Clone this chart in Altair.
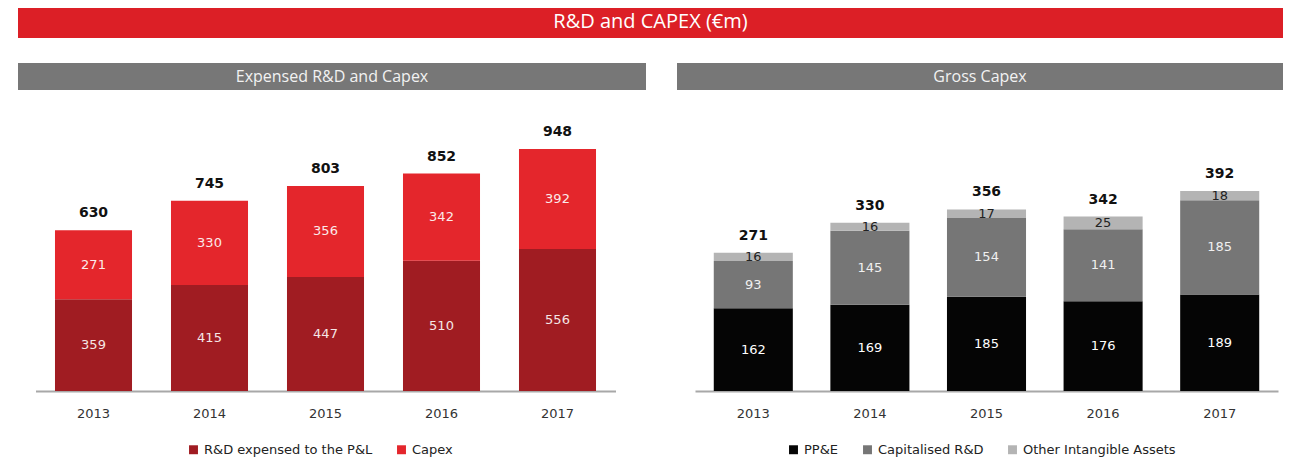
import altair as alt
import pandas as pd

years = ["2013", "2014", "2015", "2016", "2017"]
rd_expensed = [359, 415, 447, 510, 556]
capex = [271, 330, 356, 342, 392]
totals_left = [630, 745, 803, 852, 948]
ppe = [162, 169, 185, 176, 189]
cap_rd = [93, 145, 154, 141, 185]
other_int = [16, 16, 17, 25, 18]
totals_right = [271, 330, 356, 342, 392]

main_title = ["R&D and CAPEX (€m)"]
left_title = ["Expensed R&D and Capex"]
right_title = ["Gross Capex"]

left_series = ["R&D expensed to the P&L", "Capex"]
left_colors = ["#A01C22", "#E4262C"]
right_series = ["PP&E", "Capitalised R&D", "Other Intangible Assets"]
right_colors = ["#050505", "#767676", "#B4B4B4"]
right_label_colors = ["#FFFFFF", "#F0F0F0", "#222222"]

NUMFONT = "DejaVu Sans"
HFONT = "Open Sans"

rows = []
for i, y in enumerate(years):
    rows.append({"year": y, "series": left_series[0], "value": rd_expensed[i], "ord": 0, "lc": "#F5E6E6"})
    rows.append({"year": y, "series": left_series[1], "value": capex[i], "ord": 1, "lc": "#FBEAEA"})
df_left = pd.DataFrame(rows)
df_left_tot = pd.DataFrame({"year": years, "total": totals_left})

rows = []
vals = [ppe, cap_rd, other_int]
for i, y in enumerate(years):
    for k, s in enumerate(right_series):
        rows.append({"year": y, "series": s, "value": vals[k][i], "ord": k, "lc": right_label_colors[k]})
df_right = pd.DataFrame(rows)
df_right_tot = pd.DataFrame({"year": years, "total": totals_right})


def header(text_list, width):
    d = pd.DataFrame({"t": text_list})
    bar = alt.Chart(d).mark_rect(color="#777777").encode(
        x=alt.value(0), x2=alt.value(width), y=alt.value(0), y2=alt.value(27)
    )
    txt = alt.Chart(d).mark_text(font=HFONT, fontSize=16, color="#F2F2F2", baseline="middle", align="center").encode(
        x=alt.value(width / 2), y=alt.value(14), text="t:N"
    )
    return (bar + txt).properties(width=width, height=27)


def panel(df, df_tot, series, colors, width, xrange, pin, ymax, legend_x):
    x = alt.X("year:N", title=None, sort=years,
              scale=alt.Scale(range=xrange, paddingInner=pin, paddingOuter=pin / 2),
              axis=alt.Axis(labelAngle=0, ticks=False, labelPadding=16, labelFont=NUMFONT,
                            labelFontSize=13, labelColor="#333333", domainColor="#A8A8A8",
                            domainWidth=2))
    base = alt.Chart(df).transform_stack(
        stack="value", groupby=["year"], as_=["y0", "y1"], sort=[alt.SortField("ord")]
    ).transform_calculate(mid="(datum.y0 + datum.y1) / 2")
    ysc = alt.Scale(domain=[0, ymax])
    bars = base.mark_bar().encode(
        x=x,
        y=alt.Y("y0:Q", scale=ysc, axis=None),
        y2="y1:Q",
        color=alt.Color("series:N", scale=alt.Scale(domain=series, range=colors),
                        legend=alt.Legend(title=None, orient="none", legendX=legend_x, legendY=380,
                                          direction="horizontal", symbolType="square",
                                          symbolSize=80, symbolStrokeWidth=0,
                                          labelFont=NUMFONT, labelFontSize=13, labelLimit=400,
                                          labelColor="#222222", columnPadding=22,
                                          symbolOffset=0, labelOffset=4)),
    )
    labels = base.mark_text(font=NUMFONT, fontSize=13, baseline="middle").encode(
        x=alt.X("year:N", sort=years),
        y=alt.Y("mid:Q", scale=ysc),
        text="value:Q",
        color=alt.Color("lc:N", scale=None),
    )
    tots = alt.Chart(df_tot).mark_text(font=NUMFONT, fontSize=14, fontWeight="bold",
                                        color="#111111", baseline="middle", dy=-17).encode(
        x=alt.X("year:N", sort=years),
        y=alt.Y("total:Q", scale=ysc),
        text="total:Q",
    )
    return (bars + labels + tots).properties(width=width, height=291)


left = panel(df_left, df_left_tot, left_series, left_colors, 628, [17.5, 597.5], 0.336, 1140, 169)
right = panel(df_right, df_right_tot, right_series, right_colors, 606, [18, 601], 0.322, 570.5, 110)

left_p = alt.vconcat(header(left_title, 628), left, spacing=10)
right_p = alt.vconcat(header(right_title, 606), right, spacing=10)

td = pd.DataFrame({"t": main_title})
title_bar = (
    alt.Chart(td).mark_rect(color="#DC1F26").encode(
        x=alt.value(0), x2=alt.value(1265), y=alt.value(0), y2=alt.value(30))
    + alt.Chart(td).mark_text(font=HFONT, fontSize=20, color="white", baseline="middle", align="center").encode(
        x=alt.value(632.5), y=alt.value(14), text="t:N")
).properties(width=1265, height=30)

chart = alt.vconcat(
    title_bar,
    alt.hconcat(left_p, right_p, spacing=31).resolve_scale(color="independent"),
    spacing=25,
).resolve_scale(color="independent").properties(
    padding={"left": 10, "top": 0, "right": 0, "bottom": 0}
).configure_view(strokeWidth=0)

chart.save("out.html", embed_options={"renderer": "svg", "actions": False})
